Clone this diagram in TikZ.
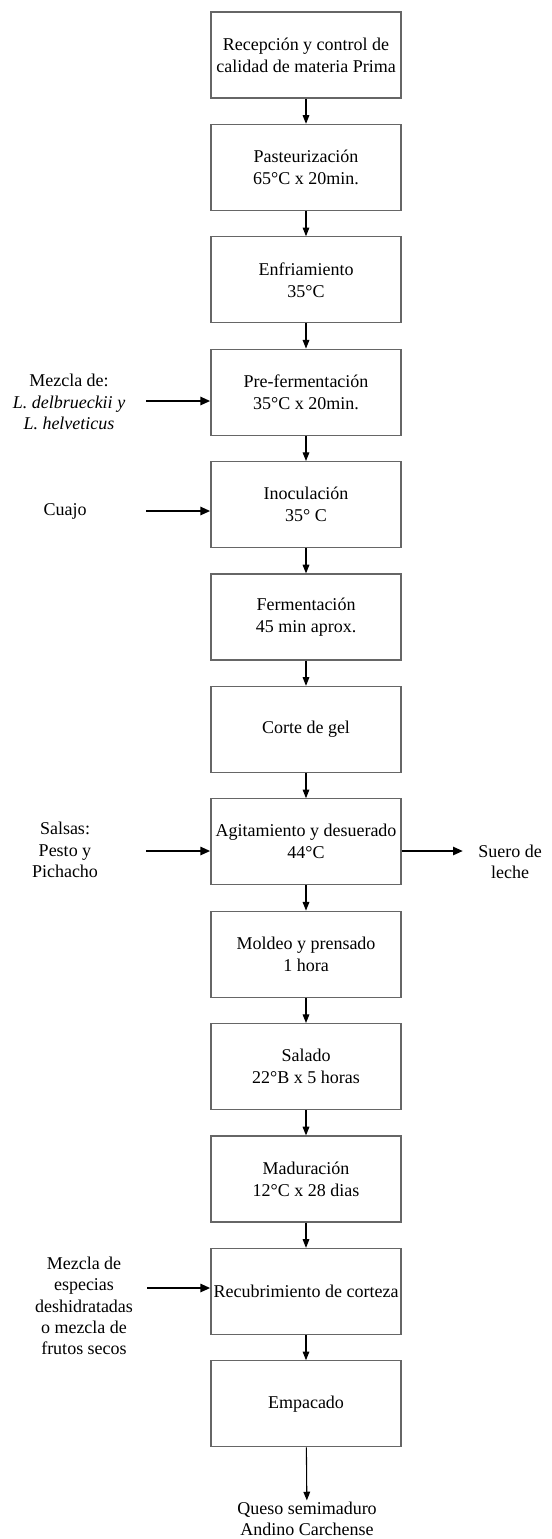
\documentclass[tikz,border=0pt]{standalone}
\usepackage{fontspec}
\setmainfont{Liberation Serif}
\usetikzlibrary{arrows.meta,positioning}

\begin{document}
\begin{tikzpicture}[x=0.75pt, y=-0.75pt,
    paso/.style={draw=black!60, line width=0.9pt, minimum width=142.5pt, minimum height=64.5pt,
      inner sep=0pt, align=center, font=\fontsize{13.5}{16.5}\selectfont},
    entrada/.style={align=center, inner sep=1pt, font=\fontsize{13.5}{16}\selectfont},
    flecha/.style={-{Triangle[length=6.5pt,width=5pt]}, line width=0.8pt},
    gruesa/.style={-{Triangle[length=7.5pt,width=6pt]}, line width=2.1pt}]
        \useasboundingbox (0,0) rectangle (552,1539);

        \node[paso] (rec) at (306,55) {Recepción y control de\\calidad de materia Prima};
        \node[paso] (past) at (306,167.4) {Pasteurización\\65°C x 20min.};
        \node[paso] (enf) at (306,279.8) {Enfriamiento\\35°C};
        \node[paso] (pref) at (306,392.2) {Pre-fermentación\\35°C x 20min.};
        \node[paso] (inoc) at (306,504.6) {Inoculación\\35° C};
        \node[paso] (ferm) at (306,617) {Fermentación\\45 min aprox.};
        \node[paso] (corte) at (306,729.4) {Corte de gel};
        \node[paso] (agit) at (306,841.8) {Agitamiento y desuerado\\44°C};
        \node[paso] (mold) at (306,954.2) {Moldeo y prensado\\1 hora};
        \node[paso] (sal) at (306,1066.6) {Salado\\22°B x 5 horas};
        \node[paso] (mad) at (306,1179) {Maduración\\12°C x 28 dias};
        \node[paso] (recub) at (306,1291.4) {Recubrimiento de corteza};
        \node[paso] (emp) at (306,1403.8) {Empacado};
        \node[entrada] (queso) at (307,1519) {Queso semimaduro\\Andino Carchense};

        \foreach \a/\b in {rec/past, past/enf, enf/pref, pref/inoc, inoc/ferm, ferm/corte,
            corte/agit, agit/mold, mold/sal, sal/mad, mad/recub, recub/emp, emp/queso}
          \draw[flecha] (\a) -- (\b);

        % entradas y salidas
        \node[entrada] (mezcla) at (69,402) {Mezcla de:\\\textit{L. delbrueckii y}\\\textit{L. helveticus}};
        \node[entrada] (cuajo) at (65,511) {Cuajo};
        \node[entrada] (salsas) at (65,850) {Salsas:\\Pesto y\\Pichacho};
        \node[entrada] (suero) at (510,862) {Suero de\\leche};
        \node[entrada] (especias) at (84,1306) {Mezcla de\\especias\\deshidratadas\\o mezcla de\\frutos secos};

        \coordinate (mezcla-a) at (146,401);
        \coordinate (cuajo-a) at (146,511);
        \coordinate (salsas-a) at (146,851);
        \coordinate (suero-a) at (463,851);
        \coordinate (especias-a) at (147,1288);

        \draw[gruesa] (mezcla-a) -- (mezcla-a -| pref.west);
        \draw[gruesa] (cuajo-a) -- (cuajo-a -| inoc.west);
        \draw[gruesa] (salsas-a) -- (salsas-a -| agit.west);
        \draw[gruesa] (suero-a -| agit.east) -- (suero-a);
        \draw[gruesa] (especias-a) -- (especias-a -| recub.west);
\end{tikzpicture}
\end{document}
